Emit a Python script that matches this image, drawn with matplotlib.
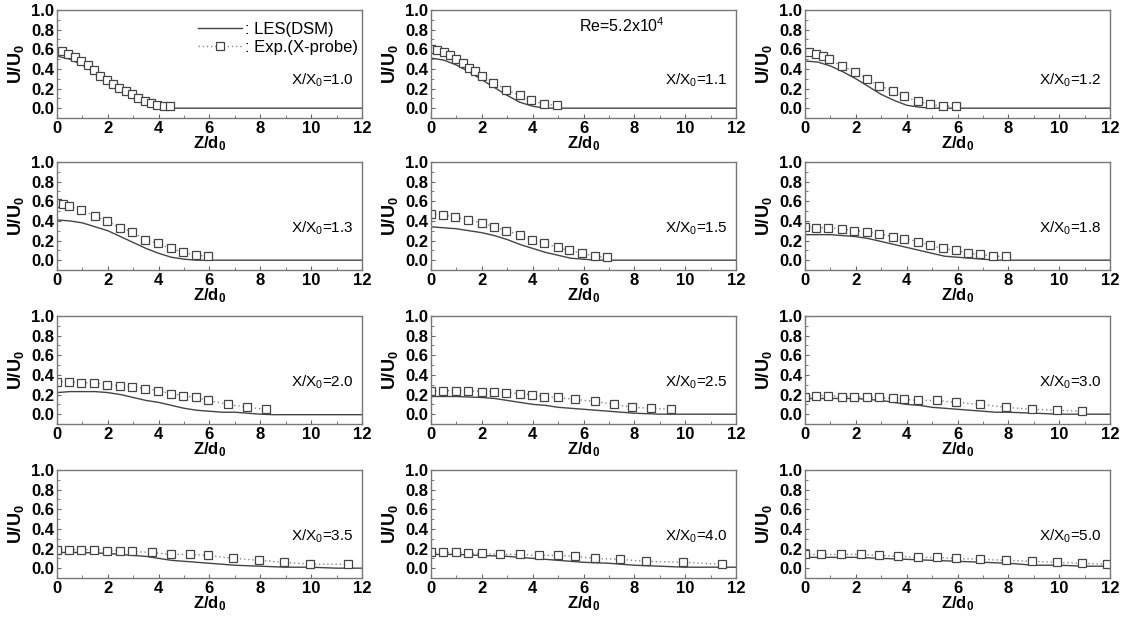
import matplotlib
matplotlib.use('Agg')
import matplotlib.pyplot as plt
from matplotlib.ticker import MultipleLocator

plt.rcParams['font.family'] = ['Liberation Sans', 'DejaVu Sans']
plt.rcParams['mathtext.fontset'] = 'custom'
plt.rcParams['mathtext.rm'] = 'Liberation Sans'
plt.rcParams['mathtext.bf'] = 'Liberation Sans:bold'
plt.rcParams['mathtext.default'] = 'regular'

# stations X/X0
stations = ['1.0', '1.1', '1.2', '1.3', '1.5', '1.8', '2.0', '2.5', '3.0', '3.5', '4.0', '5.0']

# LES(DSM) profiles
les_z = [
    [0, 0.5, 1, 1.5, 2, 2.5, 3, 3.5, 4, 4.5, 12],
    [0, 0.5, 1, 1.5, 2, 2.5, 3, 3.5, 4, 4.5, 12],
    [0, 0.5, 1, 1.5, 2, 2.5, 3, 3.5, 4, 4.5, 5, 12],
    [0, 0.5, 1, 1.5, 2, 2.5, 3, 3.5, 4, 4.5, 5, 5.5, 12],
    [0, 0.5, 1, 1.5, 2, 2.5, 3, 3.5, 4, 4.5, 5, 5.5, 6, 6.5, 12],
    [0, 0.5, 1, 1.5, 2, 2.5, 3, 3.5, 4, 4.5, 5, 5.5, 6, 6.5, 7, 7.5, 12],
    [0, 0.5, 1, 1.5, 2, 2.5, 3, 3.5, 4, 4.5, 5, 5.5, 6, 6.5, 7, 7.5, 8, 8.5, 12],
    [0, 1, 2, 2.5, 3, 3.5, 4, 4.5, 5, 5.5, 6, 6.5, 7, 7.5, 8, 9, 12],
    [0, 1, 2, 2.5, 3, 3.5, 4, 4.5, 5, 5.5, 6, 6.5, 7, 7.5, 8, 9, 10, 12],
    [0, 1, 2, 3, 3.5, 4, 4.5, 5, 5.5, 6, 6.5, 7, 8, 9, 10, 11, 12],
    [0, 1, 2, 3, 4, 5, 6, 7, 8, 9, 10, 11, 12],
    [0, 1, 2, 3, 4, 5, 6, 7, 8, 9, 10, 11, 12],
]
les_u = [
    [0.53, 0.50, 0.44, 0.36, 0.27, 0.18, 0.10, 0.04, 0.01, 0.0, 0.0],
    [0.51, 0.49, 0.44, 0.37, 0.29, 0.21, 0.13, 0.06, 0.02, 0.0, 0.0],
    [0.48, 0.47, 0.43, 0.37, 0.30, 0.22, 0.14, 0.08, 0.03, 0.01, 0.0, 0.0],
    [0.41, 0.40, 0.38, 0.34, 0.30, 0.24, 0.18, 0.12, 0.07, 0.03, 0.01, 0.0, 0.0],
    [0.34, 0.33, 0.32, 0.30, 0.28, 0.25, 0.21, 0.16, 0.12, 0.08, 0.05, 0.02, 0.01, 0.0, 0.0],
    [0.26, 0.26, 0.26, 0.25, 0.24, 0.22, 0.19, 0.16, 0.13, 0.10, 0.07, 0.04, 0.03, 0.02, 0.01, 0.0, 0.0],
    [0.22, 0.23, 0.23, 0.23, 0.22, 0.20, 0.17, 0.14, 0.12, 0.09, 0.06, 0.04, 0.03, 0.02, 0.02, 0.01, 0.0, -0.005, -0.005],
    [0.18, 0.18, 0.17, 0.16, 0.14, 0.12, 0.10, 0.09, 0.07, 0.06, 0.05, 0.04, 0.03, 0.02, 0.01, 0.0, 0.0],
    [0.16, 0.16, 0.16, 0.15, 0.14, 0.12, 0.10, 0.09, 0.07, 0.06, 0.05, 0.04, 0.03, 0.02, 0.02, 0.01, 0.0, 0.0],
    [0.16, 0.16, 0.15, 0.13, 0.12, 0.10, 0.08, 0.07, 0.06, 0.05, 0.04, 0.03, 0.02, 0.01, 0.01, 0.0, 0.0],
    [0.14, 0.14, 0.13, 0.12, 0.10, 0.08, 0.06, 0.05, 0.03, 0.02, 0.01, 0.01, 0.01],
    [0.11, 0.11, 0.11, 0.10, 0.09, 0.08, 0.07, 0.06, 0.05, 0.03, 0.03, 0.02, 0.02],
]

# Exp.(X-probe) points
exp_z = [
    [0.2, 0.45, 0.7, 0.95, 1.2, 1.45, 1.7, 1.95, 2.2, 2.45, 2.7, 2.95, 3.2, 3.45, 3.7, 3.95, 4.2, 4.45],
    [0.0, 0.25, 0.5, 0.75, 1.0, 1.25, 1.5, 1.75, 2.0, 2.45, 2.95, 3.5, 3.95, 4.45, 4.95],
    [0.17, 0.43, 0.7, 0.93, 1.44, 1.97, 2.43, 2.92, 3.45, 3.9, 4.43, 4.92, 5.42, 5.94],
    [0.0, 0.24, 0.47, 0.96, 1.48, 1.97, 2.47, 2.97, 3.46, 3.96, 4.47, 4.97, 5.47, 5.95],
    [0.0, 0.49, 0.95, 1.47, 2.0, 2.46, 2.96, 3.49, 3.97, 4.46, 4.99, 5.42, 5.95, 6.47, 6.93],
    [0.0, 0.43, 0.92, 1.44, 1.94, 2.43, 2.92, 3.45, 3.91, 4.43, 4.92, 5.42, 5.94, 6.43, 6.89, 7.41, 7.91],
    [0.0, 0.47, 0.96, 1.46, 1.97, 2.47, 2.97, 3.46, 3.96, 4.47, 4.94, 5.47, 5.95, 6.72, 7.47, 8.22],
    [0.0, 0.49, 0.99, 1.47, 2.0, 2.46, 2.96, 3.49, 3.97, 4.46, 4.99, 5.68, 6.45, 7.2, 7.92, 8.67, 9.43],
    [0.0, 0.43, 0.92, 1.44, 1.94, 2.43, 2.92, 3.45, 3.91, 4.43, 5.18, 5.94, 6.89, 7.91, 8.92, 9.9, 10.9],
    [0.0, 0.47, 0.96, 1.46, 1.97, 2.47, 2.97, 3.72, 4.47, 5.23, 5.95, 6.94, 7.96, 8.95, 9.96, 11.45],
    [0.0, 0.49, 0.99, 1.47, 2.0, 2.72, 3.49, 4.24, 4.99, 5.68, 6.45, 7.43, 8.45, 9.93, 11.43],
    [0.0, 0.63, 1.42, 2.19, 2.92, 3.67, 4.43, 5.18, 5.94, 6.89, 7.91, 8.92, 9.9, 10.9, 11.87],
]
exp_u = [
    [0.58, 0.55, 0.52, 0.48, 0.44, 0.39, 0.33, 0.29, 0.25, 0.21, 0.17, 0.14, 0.10, 0.07, 0.05, 0.03, 0.02, 0.02],
    [0.60, 0.59, 0.57, 0.54, 0.50, 0.46, 0.41, 0.38, 0.33, 0.26, 0.19, 0.13, 0.08, 0.04, 0.03],
    [0.57, 0.55, 0.53, 0.50, 0.43, 0.37, 0.30, 0.23, 0.18, 0.12, 0.07, 0.04, 0.02, 0.02],
    [0.58, 0.57, 0.55, 0.51, 0.45, 0.40, 0.33, 0.29, 0.21, 0.17, 0.12, 0.08, 0.05, 0.04],
    [0.47, 0.46, 0.44, 0.41, 0.38, 0.34, 0.30, 0.26, 0.21, 0.17, 0.13, 0.10, 0.07, 0.04, 0.03],
    [0.34, 0.33, 0.33, 0.32, 0.30, 0.29, 0.27, 0.24, 0.22, 0.19, 0.15, 0.12, 0.10, 0.07, 0.06, 0.04, 0.04],
    [0.33, 0.33, 0.32, 0.32, 0.30, 0.29, 0.28, 0.26, 0.24, 0.21, 0.19, 0.17, 0.14, 0.10, 0.07, 0.05],
    [0.24, 0.24, 0.24, 0.24, 0.23, 0.23, 0.22, 0.21, 0.20, 0.18, 0.17, 0.15, 0.13, 0.10, 0.07, 0.06, 0.05],
    [0.18, 0.19, 0.19, 0.18, 0.18, 0.17, 0.17, 0.16, 0.15, 0.14, 0.14, 0.12, 0.10, 0.07, 0.05, 0.04, 0.03],
    [0.19, 0.19, 0.19, 0.19, 0.18, 0.18, 0.17, 0.16, 0.14, 0.14, 0.13, 0.10, 0.08, 0.06, 0.04, 0.04],
    [0.16, 0.16, 0.16, 0.15, 0.15, 0.14, 0.14, 0.13, 0.13, 0.12, 0.10, 0.09, 0.07, 0.06, 0.04],
    [0.14, 0.14, 0.14, 0.14, 0.13, 0.12, 0.11, 0.11, 0.10, 0.09, 0.08, 0.07, 0.06, 0.05, 0.04],
]

fig = plt.figure(figsize=(11.27, 6.18), dpi=100)
lefts = [57 / 1127, 431 / 1127, 805 / 1127]
bottoms = [1 - 118 / 618, 1 - 270 / 618, 1 - 424 / 618, 1 - 578 / 618]
w = 305 / 1127
h = 108 / 618

for i in range(12):
    r, c = divmod(i, 3)
    ax = fig.add_axes([lefts[c], bottoms[r], w, h])
    ax.plot(les_z[i], les_u[i], color='#444444', lw=1.0, label=': LES(DSM)')
    ax.plot(exp_z[i], exp_u[i], color='#888888', lw=1.0, ls=(0, (1, 2)),
            marker='s', ms=5.5, mfc='white', mec='#444444', mew=0.9,
            label=': Exp.(X-probe)')
    ax.set_xlim(0, 12)
    ax.set_ylim(-0.1, 1.0)
    ax.xaxis.set_major_locator(MultipleLocator(2))
    ax.xaxis.set_minor_locator(MultipleLocator(1))
    ax.yaxis.set_major_locator(MultipleLocator(0.2))
    ax.yaxis.set_minor_locator(MultipleLocator(0.1))
    ax.yaxis.set_major_formatter(plt.FormatStrFormatter('%.1f'))
    ax.tick_params(which='both', direction='in', colors='#666666', labelcolor='black',
                   labelsize=12, pad=2)
    ax.tick_params(which='major', length=3)
    ax.tick_params(which='minor', length=2)
    for lab in ax.get_xticklabels() + ax.get_yticklabels():
        lab.set_fontweight('bold')
    for sp in ax.spines.values():
        sp.set_color('#777777')
        sp.set_linewidth(1.0)
    ax.set_xlabel(r'Z/d$_\mathbf{0}$', fontsize=12, fontweight='bold', labelpad=-1)
    ax.set_ylabel(r'U/U$_\mathbf{0}$', fontsize=13, fontweight='bold', labelpad=4)
    ty = 0.28 if r == 0 else 0.32
    ax.text(11.65, ty, 'X/X$_0$=' + stations[i], ha='right', va='center', fontsize=11)
    if i == 0:
        ax.legend(loc='upper right', bbox_to_anchor=(1.02, 0.98), frameon=False,
                  fontsize=12, handlelength=2.6, handletextpad=0.2, labelspacing=0.15,
                  borderaxespad=0.2)
    if i == 1:
        ax.text(7.5, 0.84, 'Re=5.2x10$^4$', ha='center', va='center', fontsize=11.5)

fig.savefig('out.png', dpi=100)
